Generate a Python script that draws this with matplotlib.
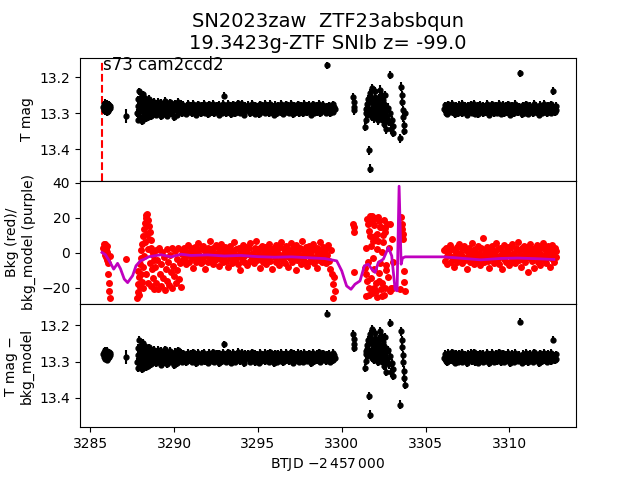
import numpy as np
import matplotlib
matplotlib.use('Agg')
import matplotlib.pyplot as plt

# Header info
title = 'SN2023zaw  ZTF23absbqun\n19.3423g-ZTF SNIb z= -99.0'
sector_label = 's73 cam2ccd2'
sector_start = 3285.72

# short chunk at the start of the sector
t_a = [3285.780, 3285.805, 3285.830, 3285.855, 3285.880, 3285.905, 3285.930, 3285.955, 3285.980,
       3286.005, 3286.030, 3286.055, 3286.080, 3286.105, 3286.130, 3286.155, 3286.180]
mag_a = [13.283, 13.276, 13.291, 13.279, 13.295, 13.272, 13.287, 13.281, 13.298,
         13.274, 13.289, 13.284, 13.293, 13.277, 13.290, 13.280, 13.286]
magc_a = [13.280, 13.273, 13.288, 13.276, 13.292, 13.269, 13.284, 13.278, 13.295,
          13.271, 13.286, 13.281, 13.290, 13.274, 13.287, 13.277, 13.283]
bkg_a = [2.5, 4.8, 1.2, 3.6, -1.0, 5.0, 2.0, -2.5, 3.8,
         0.5, -4.0, -6.0, -12.0, -17.0, -21.5, -25.5, -2.0]

# lone point
t_s = [3287.15]
mag_s = [13.308]
magc_s = [13.287]
bkg_s = [-3.6]

# first orbit
t_b = [3287.800, 3287.825, 3287.850, 3287.875, 3287.900, 3287.925, 3287.950, 3287.975, 3288.000,
       3288.025, 3288.050, 3288.075, 3288.100, 3288.125, 3288.150, 3288.175, 3288.200, 3288.225,
       3288.250, 3288.275, 3288.300, 3288.325, 3288.350, 3288.375, 3288.400, 3288.425, 3288.450,
       3288.475, 3288.500, 3288.525, 3288.550, 3288.575, 3288.600, 3288.625, 3288.650, 3288.675,
       3288.700, 3288.725, 3288.750, 3288.775, 3288.800,
       3288.85, 3288.90, 3288.95, 3289.00, 3289.05, 3289.10, 3289.15, 3289.20, 3289.25, 3289.30,
       3289.35, 3289.40, 3289.45, 3289.50, 3289.55, 3289.60, 3289.65, 3289.70, 3289.75, 3289.80,
       3289.85, 3289.90, 3289.95, 3290.00, 3290.05, 3290.10, 3290.15, 3290.20, 3290.25, 3290.30,
       3290.35, 3290.40, 3290.45,
       3290.50, 3290.55, 3290.60, 3290.65, 3290.70, 3290.75, 3290.80, 3290.85, 3290.90, 3290.95,
       3291.00, 3291.05, 3291.10, 3291.15, 3291.20, 3291.25, 3291.30, 3291.35, 3291.40, 3291.45,
       3291.50, 3291.55, 3291.60, 3291.65, 3291.70, 3291.75, 3291.80, 3291.85, 3291.90, 3291.95,
       3292.00, 3292.05, 3292.10, 3292.15, 3292.20, 3292.25, 3292.30, 3292.35, 3292.40, 3292.45,
       3292.50, 3292.55, 3292.60, 3292.65, 3292.70, 3292.75, 3292.80, 3292.85, 3292.90, 3292.95,
       3293.00, 3293.05, 3293.10, 3293.15, 3293.20, 3293.25, 3293.30, 3293.35, 3293.40, 3293.45,
       3293.50, 3293.55, 3293.60, 3293.65, 3293.70, 3293.75, 3293.80, 3293.85, 3293.90, 3293.95,
       3294.00, 3294.05, 3294.10, 3294.15, 3294.20, 3294.25, 3294.30, 3294.35, 3294.40, 3294.45,
       3294.50, 3294.55, 3294.60, 3294.65, 3294.70, 3294.75, 3294.80, 3294.85, 3294.90, 3294.95,
       3295.00, 3295.05, 3295.10, 3295.15, 3295.20, 3295.25, 3295.30, 3295.35, 3295.40, 3295.45,
       3295.50, 3295.55, 3295.60, 3295.65, 3295.70, 3295.75, 3295.80, 3295.85, 3295.90, 3295.95,
       3296.00, 3296.05, 3296.10, 3296.15, 3296.20, 3296.25, 3296.30, 3296.35, 3296.40, 3296.45,
       3296.50, 3296.55, 3296.60, 3296.65, 3296.70, 3296.75, 3296.80, 3296.85, 3296.90, 3296.95,
       3297.00, 3297.05, 3297.10, 3297.15, 3297.20, 3297.25, 3297.30, 3297.35, 3297.40, 3297.45,
       3297.50, 3297.55, 3297.60, 3297.65, 3297.70, 3297.75, 3297.80, 3297.85, 3297.90, 3297.95,
       3298.00, 3298.05, 3298.10, 3298.15, 3298.20, 3298.25, 3298.30, 3298.35, 3298.40, 3298.45,
       3298.50, 3298.55, 3298.60, 3298.65, 3298.70, 3298.75, 3298.80, 3298.85, 3298.90, 3298.95,
       3299.00, 3299.05, 3299.10, 3299.15, 3299.20, 3299.25, 3299.30, 3299.35, 3299.40, 3299.45,
       3299.50, 3299.55, 3299.60]
mag_b = [13.300, 13.262, 13.318, 13.281, 13.240, 13.295, 13.272, 13.310, 13.254, 13.289,
         13.276, 13.322, 13.265, 13.298, 13.248, 13.284, 13.307, 13.270, 13.293, 13.258,
         13.315, 13.279, 13.301, 13.267, 13.290, 13.312, 13.274, 13.296, 13.261, 13.305,
         13.283, 13.269, 13.299, 13.277, 13.308, 13.286, 13.271, 13.302, 13.280, 13.294,
         13.268,
         13.291, 13.274, 13.305, 13.282, 13.268, 13.298, 13.286, 13.309, 13.271, 13.294,
         13.280, 13.302, 13.266, 13.289, 13.276, 13.307, 13.284, 13.293, 13.270, 13.300,
         13.278, 13.296, 13.287, 13.311, 13.273, 13.290, 13.281, 13.304, 13.269, 13.297,
         13.285, 13.275, 13.301,
         13.289, 13.277, 13.298, 13.284, 13.302, 13.280, 13.293, 13.275, 13.296, 13.286,
         13.279, 13.300, 13.288, 13.274, 13.295, 13.283, 13.304, 13.281, 13.291, 13.276,
         13.297, 13.285, 13.301, 13.278, 13.290, 13.283, 13.275, 13.299, 13.287, 13.294,
         13.280, 13.303, 13.276, 13.292, 13.286, 13.298, 13.274, 13.289, 13.301, 13.282,
         13.295, 13.279, 13.288, 13.304, 13.277, 13.291, 13.284, 13.299, 13.275, 13.252,
         13.293, 13.281, 13.300, 13.286, 13.274, 13.297, 13.289, 13.278, 13.303, 13.284,
         13.276, 13.292, 13.285, 13.301, 13.280, 13.296, 13.273, 13.290, 13.282, 13.299,
         13.287, 13.275, 13.298, 13.283, 13.304, 13.279, 13.291, 13.286, 13.277, 13.294,
         13.300, 13.282, 13.288, 13.274, 13.296, 13.285, 13.302, 13.278, 13.293, 13.281,
         13.290, 13.303, 13.276, 13.287, 13.298, 13.280, 13.295, 13.284, 13.275, 13.299,
         13.283, 13.292, 13.278, 13.301, 13.286, 13.274, 13.297, 13.289, 13.281, 13.304,
         13.277, 13.294, 13.285, 13.300, 13.279, 13.291, 13.283, 13.298, 13.275, 13.288,
         13.302, 13.281, 13.293, 13.276, 13.296, 13.287, 13.280, 13.299, 13.284, 13.274,
         13.291, 13.285, 13.303, 13.278, 13.289, 13.297, 13.282, 13.294, 13.276, 13.300,
         13.286, 13.279, 13.295, 13.283, 13.301, 13.275, 13.292, 13.288, 13.298, 13.280,
         13.294, 13.277, 13.287, 13.304, 13.282, 13.290, 13.276, 13.299, 13.285, 13.293,
         13.279, 13.297, 13.284, 13.274, 13.300, 13.288, 13.281, 13.295, 13.277, 13.292,
         13.286, 13.299, 13.167, 13.282, 13.294, 13.278, 13.301, 13.285, 13.290, 13.276,
         13.296, 13.283, 13.289]
bkg_b = [-25.5, -18.0, -22.5, -10.5, -24.0, -14.0, -6.5, -19.5, -3.0, -12.0,
         1.5, -16.5, 5.0, -8.0, 9.5, -20.0, 13.5, -2.0, 17.0, 6.0,
         20.0, -12.0, 21.5, 11.0, 22.0, 2.0, 19.0, -17.0, 15.5, 8.0,
         12.0, -6.0, 7.5, -19.0, 3.0, -9.0, 1.0, -14.5, -1.0, -20.5,
         -4.0,
         -8.0, 1.5, -17.0, -4.0, -20.5, 2.5, -12.0, -6.5, -19.0, 0.5,
         -14.5, -2.5, -21.0, -9.5, 2.0, -16.0, -5.0, -18.5, -1.0, -11.0,
         3.0, -20.0, -7.5, -13.5, 1.0, -17.5, -3.5, -10.0, 2.5, -15.0,
         -6.0, -19.5, -0.5,
         1.5, -4.0, 3.0, -2.5, -6.5, 0.5, -1.5, 4.5, -5.0, -0.5,
         2.5, -3.0, -8.5, 1.0, -2.0, 3.5, -5.5, 0.0, 5.5, -3.5,
         -1.0, 2.0, -6.0, -2.5, 4.0, -4.5, 1.5, -9.5, 0.5, -2.0,
         3.0, -5.0, -0.5, 6.5, -3.0, 1.0, -6.5, 2.5, -1.5, -4.0,
         4.5, -2.0, 0.0, -7.5, 2.0, -3.5, 5.0, -1.0, -5.5, 1.5,
         -2.5, 3.5, -4.5, 0.5, -8.0, 2.5, -1.5, 4.0, -3.0, -6.0,
         1.0, -0.5, 6.0, -4.0, 2.0, -2.5, -6.5, 3.0, -1.0, -10.0,
         0.5, -3.5, 4.5, -2.0, -5.0, 1.5, 3.5, -7.0, -0.5, 2.5,
         -4.5, 5.5, -1.5, -3.0, 0.0, -6.0, 3.0, -2.5, 7.0, -4.0,
         1.5, -1.0, -8.5, 2.5, -3.5, 4.0, -5.5, 0.5, -2.0, 3.5,
         -6.5, 1.0, -3.0, 5.0, -1.5, -4.5, 2.0, -9.0, 0.0, 3.0,
         -2.5, 4.5, -5.0, 1.5, -0.5, -7.0, 3.5, -3.5, 6.0, -1.0,
         -4.0, 2.0, -6.0, 0.5, 4.0, -2.0, -8.0, 1.5, -3.0, 5.5,
         -0.5, -5.5, 3.0, -2.5, 1.0, -10.0, 4.5, -4.0, 0.0, -1.5,
         2.5, -6.5, -2.0, 6.5, -3.5, 1.0, -5.0, 3.5, -1.0, -7.5,
         0.5, 4.0, -4.5, -1.5, 2.0, -3.0, 5.0, -6.0, 1.5, -2.5,
         -8.5, 3.0, -0.5, -4.0, 6.0, -2.0, 1.0, -5.5, 3.5, -3.5,
         0.0, -6.0, 2.5, -1.5, 4.5, -4.5, -9.0, 1.5, -12.0, -18.0,
         -26.0, -14.0, -22.0]

# scattered chunk before the data gap
t_c = [3300.70, 3300.72, 3300.74, 3300.76, 3301.40, 3301.45, 3301.50, 3301.55, 3301.60, 3301.65,
       3301.68, 3301.70, 3301.75, 3301.80, 3301.85, 3301.90, 3301.95, 3302.00, 3302.05, 3302.10,
       3302.15, 3302.20, 3302.25, 3302.30, 3302.35, 3302.40, 3302.45, 3302.50, 3302.55, 3302.60,
       3302.65, 3302.70, 3302.75, 3302.80, 3302.85, 3302.90, 3302.95, 3303.00, 3303.05, 3303.08,
       3303.50, 3303.55, 3303.58, 3303.61, 3303.64, 3303.67, 3303.70, 3303.73, 3303.76,
       3301.425, 3301.475, 3301.525, 3301.575, 3301.625, 3301.725, 3301.775, 3301.825, 3301.875,
       3301.925, 3301.975, 3302.025, 3302.075, 3302.125, 3302.175, 3302.225, 3302.275, 3302.325,
       3302.375, 3302.425, 3302.475, 3302.525, 3302.575, 3302.625]
mag_c = [13.255, 13.269, 13.283, 13.292, 13.338, 13.300, 13.275, 13.262, 13.290, 13.403,
         13.454, 13.245, 13.305, 13.230, 13.285, 13.268, 13.315, 13.240, 13.298, 13.272,
         13.320, 13.258, 13.288, 13.235, 13.310, 13.280, 13.265, 13.330, 13.295, 13.250,
         13.345, 13.310, 13.285, 13.325, 13.300, 13.194, 13.345, 13.320, 13.355, 13.335,
         13.370, 13.227, 13.250, 13.269, 13.292, 13.312, 13.333, 13.350, 13.300,
         13.290, 13.318, 13.285, 13.302, 13.270, 13.295, 13.262, 13.310, 13.278,
         13.300, 13.255, 13.288, 13.312, 13.266, 13.295, 13.305, 13.278, 13.292,
         13.250, 13.315, 13.298, 13.275, 13.320, 13.290]
magc_c = [13.225, 13.238, 13.252, 13.262, 13.318, 13.280, 13.255, 13.240, 13.270, 13.396,
          13.447, 13.225, 13.285, 13.210, 13.265, 13.248, 13.295, 13.222, 13.278, 13.252,
          13.300, 13.238, 13.268, 13.216, 13.292, 13.262, 13.247, 13.312, 13.277, 13.232,
          13.328, 13.293, 13.268, 13.308, 13.284, 13.193, 13.330, 13.305, 13.340, 13.322,
          13.420, 13.216, 13.240, 13.260, 13.282, 13.302, 13.325, 13.345, 13.364,
          13.270, 13.298, 13.265, 13.282, 13.250, 13.275, 13.242, 13.290, 13.258,
          13.280, 13.235, 13.268, 13.292, 13.246, 13.275, 13.285, 13.258, 13.272,
          13.230, 13.297, 13.280, 13.257, 13.302, 13.272]
bkg_c = [16.4, 14.5, 11.6, -10.7, -8.4, -24.6, -16.0, 16.4, -19.8, -24.0,
         21.1, 9.7, 4.0, 21.0, -2.7, -19.8, 16.0, 9.7, -22.0, 2.0,
         20.6, -16.0, 18.0, -6.0, 14.5, -24.6, 5.9, 19.0, -19.8, 12.0,
         -10.0, 16.4, -14.0, 3.0, -22.0, 16.4, -19.8, 8.0, -5.0, -19.8,
         -20.8, 20.6, 16.4, 13.5, 10.6, 7.8, -10.3, -16.9, -22.0,
         3.0, -12.0, 19.5, -5.0, 12.5, -14.5, 17.5, -23.0, 6.5,
         -9.0, 20.0, -17.5, 11.0, -25.0, 7.0, -11.5, 15.0, -20.5,
         0.5, -17.0, 10.0, -24.0, 14.0, -7.0]

# second orbit
t_d = [3306.10, 3306.15, 3306.20, 3306.25, 3306.30, 3306.35, 3306.40, 3306.45, 3306.50, 3306.55,
       3306.60, 3306.65, 3306.70, 3306.75, 3306.80, 3306.85, 3306.90, 3306.95, 3307.00, 3307.05,
       3307.10, 3307.15, 3307.20, 3307.25, 3307.30, 3307.35, 3307.40, 3307.45, 3307.50, 3307.55,
       3307.60, 3307.65, 3307.70, 3307.75, 3307.80, 3307.85, 3307.90, 3307.95, 3308.00, 3308.05,
       3308.10, 3308.15, 3308.20, 3308.25, 3308.30, 3308.35, 3308.40, 3308.45, 3308.50, 3308.55,
       3308.60, 3308.65, 3308.70, 3308.75, 3308.80, 3308.85, 3308.90, 3308.95, 3309.00, 3309.05,
       3309.10, 3309.15, 3309.20, 3309.25, 3309.30, 3309.35, 3309.40, 3309.45, 3309.50, 3309.55,
       3309.60, 3309.65, 3309.70, 3309.75, 3309.80, 3309.85, 3309.90, 3309.95, 3310.00, 3310.05,
       3310.10, 3310.15, 3310.20, 3310.25, 3310.30, 3310.35, 3310.40, 3310.45, 3310.50, 3310.55,
       3310.60, 3310.65, 3310.70, 3310.75, 3310.80, 3310.85, 3310.90, 3310.95, 3311.00, 3311.05,
       3311.10, 3311.15, 3311.20, 3311.25, 3311.30, 3311.35, 3311.40, 3311.45, 3311.50, 3311.55,
       3311.60, 3311.65, 3311.70, 3311.75, 3311.80, 3311.85, 3311.90, 3311.95, 3312.00, 3312.05,
       3312.10, 3312.15, 3312.20, 3312.25, 3312.30, 3312.35, 3312.40, 3312.45, 3312.50, 3312.55,
       3312.60, 3312.65, 3312.70, 3312.75, 3312.80]
mag_d = [13.290, 13.278, 13.299, 13.284, 13.302, 13.276, 13.293, 13.287, 13.296, 13.281,
         13.274, 13.298, 13.286, 13.303, 13.279, 13.291, 13.283, 13.300, 13.277, 13.294,
         13.288, 13.275, 13.301, 13.285, 13.296, 13.280, 13.292, 13.304, 13.278, 13.289,
         13.297, 13.282, 13.276, 13.299, 13.287, 13.294, 13.274, 13.302, 13.284, 13.291,
         13.280, 13.303, 13.288, 13.277, 13.295, 13.285, 13.300, 13.279, 13.293, 13.283,
         13.298, 13.275, 13.290, 13.286, 13.304, 13.281, 13.296, 13.276, 13.289, 13.301,
         13.284, 13.292, 13.278, 13.299, 13.287, 13.274, 13.295, 13.282, 13.302, 13.288,
         13.277, 13.300, 13.285, 13.293, 13.280, 13.297, 13.276, 13.290, 13.283, 13.304,
         13.289, 13.279, 13.296, 13.284, 13.301, 13.275, 13.292, 13.287, 13.298, 13.281,
         13.294, 13.190, 13.286, 13.303, 13.278, 13.291, 13.284, 13.299, 13.276, 13.288,
         13.302, 13.282, 13.295, 13.279, 13.290, 13.285, 13.300, 13.274, 13.293, 13.287,
         13.280, 13.297, 13.284, 13.304, 13.277, 13.291, 13.283, 13.299, 13.286, 13.275,
         13.296, 13.288, 13.281, 13.301, 13.278, 13.293, 13.285, 13.299, 13.276, 13.290,
         13.239, 13.284, 13.297, 13.280, 13.292]
bkg_d = [1.5, -4.5, 3.0, -2.0, -6.5, 0.5, -1.0, 4.5, -5.0, -2.5,
         2.0, -3.5, -8.0, 1.0, -1.5, 3.5, -5.5, 0.0, 5.0, -3.0,
         -0.5, 2.5, -6.0, -2.5, 4.0, -4.0, 1.5, -9.0, 0.5, -2.0,
         3.0, -5.0, -1.0, 5.5, -3.0, 1.0, -6.5, 2.0, -1.5, -4.5,
         4.0, -2.5, 0.0, -7.0, 2.5, -3.5, 8.4, -1.0, -5.5, 1.5,
         -2.0, 3.5, -4.5, 0.5, -8.5, 2.5, -1.5, 4.0, -3.0, -6.0,
         1.0, -0.5, 5.5, -4.0, 2.0, -2.5, -6.5, 3.0, -1.0, -9.5,
         0.5, -3.5, 4.5, -2.0, -5.0, 1.5, 3.5, -7.0, -0.5, 2.5,
         -4.5, 5.0, -1.5, -3.0, 0.0, -6.0, 3.0, -2.5, 6.0, -4.0,
         1.5, -1.0, -8.0, 2.5, -3.5, 4.0, -5.5, 0.5, -2.0, 3.5,
         -10.7, 1.0, -3.0, 5.0, -1.5, -4.5, 2.0, -8.5, 0.0, 3.0,
         -2.5, 4.5, -5.0, 1.5, -0.5, -7.0, 3.5, -3.5, 5.5, -1.0,
         -4.0, 2.0, -6.0, 0.5, 4.0, -2.0, -8.0, 1.5, -3.0, 4.5,
         -0.5, -5.5, 3.0, -2.5, 1.0]

# background model curve
model_t = [3285.70, 3285.90, 3286.14, 3286.40, 3286.63, 3286.80, 3287.03, 3287.23, 3287.53, 3287.73,
           3288.00, 3288.23, 3288.50, 3288.83, 3289.23, 3289.83, 3290.42, 3291.0, 3292.0, 3293.0,
           3294.0, 3295.0, 3296.0, 3297.0, 3298.0, 3299.0, 3299.7, 3300.0, 3300.19, 3300.29,
           3300.55, 3300.79, 3301.09, 3301.35, 3301.58, 3301.79, 3301.99, 3302.18, 3302.48, 3302.78,
           3302.98, 3303.18, 3303.30, 3303.42, 3303.54, 3303.62, 3303.78, 3306.07, 3307.0, 3308.3,
           3309.5, 3310.5, 3311.5, 3312.65]
model_v = [0.2, -1.0, -4.6, -9.3, -6.0, -9.0, -15.0, -17.0, -13.0, -7.4,
           -4.5, -3.6, -2.2, -1.7, -1.1, -2.3, -0.8, -1.5, -1.2, -1.8,
           -1.5, -2.2, -2.5, -2.3, -2.8, -3.3, -4.6, -10.3, -16.0, -18.9,
           -20.8, -17.9, -16.0, -7.4, -6.5, -9.3, -11.2, -5.5, -3.6, 3.0,
           -1.7, -20.8, -21.7, 38.0, -6.5, -3.0, -2.3, -2.3, -3.0, -4.0,
           -3.2, -3.0, -3.3, -3.8]

segments = [
    (t_a, mag_a, magc_a, bkg_a, 0.01),
    (t_s, mag_s, magc_s, bkg_s, 0.02),
    (t_b, mag_b, mag_b, bkg_b, 0.01),
    (t_c, mag_c, magc_c, bkg_c, 0.012),
    (t_d, mag_d, mag_d, bkg_d, 0.01),
]

fig, (ax1, ax2, ax3) = plt.subplots(3, 1, sharex=True, figsize=(6.4, 4.8), dpi=100)
fig.subplots_adjust(hspace=0)

for t, m, mc, b, e in segments:
    ax1.errorbar(t, m, yerr=e, fmt='o', color='k', ms=3.5)
    ax2.plot(t, b, 'o', color='r', ms=4)
    ax3.errorbar(t, mc, yerr=e, fmt='o', color='k', ms=3.5)
ax2.plot(model_t, model_v, color='m', lw=2)

ax1.set_ylim(13.488, 13.146)
ax1.axvline(sector_start, ymax=0.968, color='r', ls='--', lw=1.5)
ax1.text(sector_start + 0.07, 13.18, sector_label, fontsize=12)
ax1.set_ylabel('T mag')
ax1.set_title(title, fontsize=14)

ax2.set_ylim(-29.2, 41.1)
ax2.set_ylabel('Bkg (red)/\nbkg_model (purple)')

ax3.set_ylim(13.482, 13.1406)
ax3.set_ylabel('T mag \u2212\nbkg_model')
ax3.set_xlabel(r'BTJD $-2\,457\,000$')
ax3.set_xlim(3284.39, 3313.97)

fig.savefig('out.png')
